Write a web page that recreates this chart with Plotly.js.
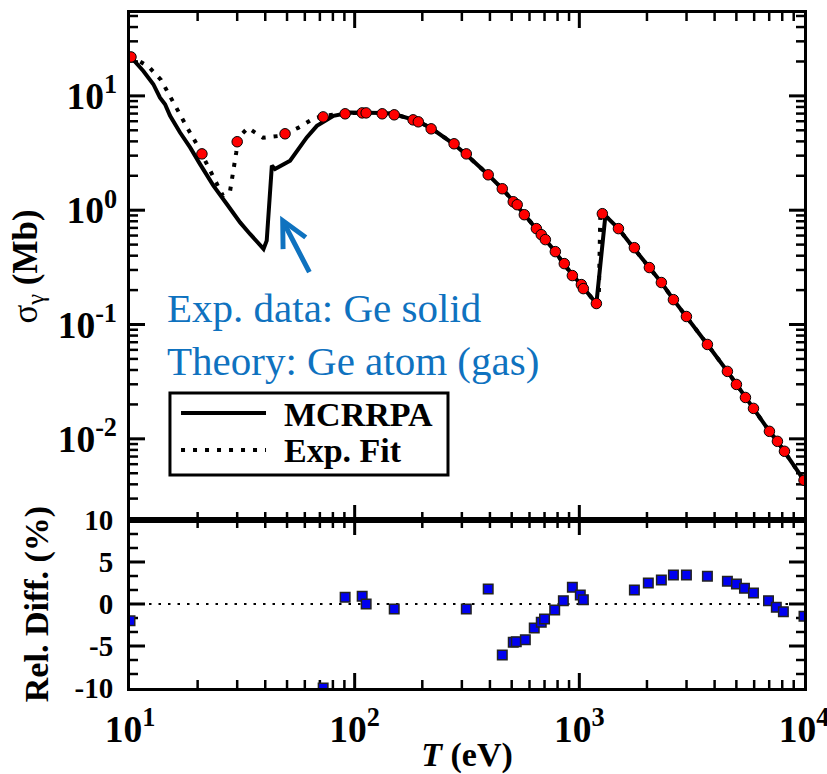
<!DOCTYPE html>
<html>
<head>
<meta charset="utf-8">
<script src="https://cdn.plot.ly/plotly-3.0.1.min.js"></script>
<style>html,body{margin:0;padding:0;background:#fff;}#chart{width:827px;height:774px;}</style>
</head>
<body>
<div id="chart"></div>
<script>
// ---- data ----
const mcrrpaT = [10, 11.46, 12.70, 13.60, 14.32, 15.08, 16.70, 18.51, 20.50, 23.5, 26.96, 30.9, 34.2, 37.9, 39.3, 40.6, 42.8, 44.2, 51.6, 61.2, 67.9, 80.5, 95.5, 134, 148, 190, 221, 275, 311, 393, 454, 519, 575, 637, 706, 782, 849, 940, 1042, 1191, 1306, 1493, 1740, 2050, 2318, 2623, 2997, 3716, 4561, 5003, 5487, 5958, 7016, 7615, 8185, 10000];
const mcrrpaS = [22.3, 16.5, 12.65, 9.66, 8.46, 6.69, 4.78, 3.54, 2.53, 1.64, 1.133, 0.782, 0.62, 0.49, 0.458, 0.542, 2.45, 2.29, 2.71, 4.33, 5.47, 6.69, 7.15, 7.10, 6.97, 6.05, 5.15, 3.81, 3.11, 2.04, 1.54, 1.14, 0.895, 0.69, 0.541, 0.434, 0.341, 0.268, 0.206, 0.1526, 0.895, 0.69, 0.47, 0.315, 0.233, 0.165, 0.1175, 0.0669, 0.0389, 0.0299, 0.023, 0.01846, 0.01163, 0.00951, 0.00778, 0.00434];

const fitT = [10, 12.15, 13.74, 15.07, 16.5, 18.1, 19.9, 21.8, 23.9, 25.9, 27.9, 28.8, 29.7, 30.3, 33.5, 39.1, 46.5, 56.0, 65.3, 72.4, 95.5, 134, 148, 190, 221, 275, 311, 393, 454, 519, 575, 637, 706, 782, 849, 940, 1042, 1191, 1220, 1240, 1306, 1493, 1740, 2050, 2318, 2623, 2997, 3716, 4561, 5003, 5487, 5958, 7016, 7615, 8185, 10000];
const fitS = [22.5, 17.9, 13.8, 9.8, 6.97, 5.15, 3.73, 2.60, 1.88, 1.34, 1.48, 2.13, 3.18, 4.30, 5.25, 4.30, 4.47, 5.25, 6.3, 6.68, 7.10, 7.10, 6.97, 6.05, 5.15, 3.81, 3.11, 2.04, 1.54, 1.14, 0.895, 0.69, 0.541, 0.434, 0.341, 0.268, 0.206, 0.1526, 0.16, 0.93, 0.895, 0.69, 0.47, 0.315, 0.233, 0.165, 0.1175, 0.0669, 0.0389, 0.0299, 0.023, 0.01846, 0.01163, 0.00951, 0.00778, 0.00434];

const expT = [10.1, 20.9, 30.0, 49.0, 72.4, 90.7, 108, 112.5, 132.6, 150, 182, 192, 219, 277, 314, 393, 454, 508, 529, 569, 644, 677, 706, 782, 857, 931, 1021, 1042, 1191, 1266, 1493, 1758, 2050, 2318, 2623, 2997, 3716, 4561, 5003, 5487, 5958, 7016, 7615, 8185, 10000];
const expS = [21.9, 3.11, 3.97, 4.66, 6.55, 6.97, 7.10, 7.10, 6.97, 6.83, 6.17, 5.93, 5.15, 3.81, 3.11, 2.04, 1.54, 1.186, 1.117, 0.913, 0.69, 0.611, 0.553, 0.434, 0.341, 0.268, 0.2235, 0.206, 0.1526, 0.932, 0.69, 0.47, 0.315, 0.233, 0.165, 0.1175, 0.0669, 0.0389, 0.0299, 0.023, 0.01846, 0.01163, 0.00951, 0.00778, 0.00434];

const diffT = [10, 72.4, 90.7, 108, 112.5, 150, 314, 393, 454, 508, 524, 575, 630, 677, 700, 777, 849, 931, 1010, 1042, 1758, 2028, 2318, 2623, 2997, 3716, 4561, 5003, 5433, 5958, 6950, 7530, 8095, 10000];
const diffV = [-2.0, -10, 0.8, 0.92, 0.0, -0.6, -0.6, 1.79, -6.07, -4.56, -4.48, -4.25, -2.86, -2.18, -1.79, -0.71, 0.4, 1.99, 1.07, 0.52, 1.67, 2.5, 2.86, 3.45, 3.45, 3.3, 2.7, 2.38, 1.87, 1.31, 0.4, -0.4, -0.91, -1.47];

const zeroT = [10, 10000];
const zeroV = [0, 0];

// tick label aliases (plotly prints 10 and 1 plainly; the figure writes them as powers)
const xLabelAlias = {'10': '10<sup>1</sup>'};
const yLabelAlias = {'10': '10<sup>1</sup>', '1': '10<sup>0</sup>',
  '10<sup>\u22121</sup>': '10<sup>-1</sup>', '10<sup>\u22122</sup>': '10<sup>-2</sup>'};
const y2LabelAlias = {'\u22125': '-5', '\u221210': '-10'};

const legendNames = ["MCRRPA", "Exp. Fit"];
const noteLines = ["Exp. data: Ge solid", "Theory: Ge atom (gas)"];

// tick mark values
const xMajor = [100, 1000];
const xMinor = [20, 30, 40, 50, 60, 70, 80, 90, 200, 300, 400, 500, 600, 700, 800, 900, 2000, 3000, 4000, 5000, 6000, 7000, 8000, 9000];
const yMajor = [0.01, 0.1, 1, 10];
const yMinor = [0.002, 0.003, 0.004, 0.005, 0.006, 0.007, 0.008, 0.009, 0.02, 0.03, 0.04, 0.05, 0.06, 0.07, 0.08, 0.09, 0.2, 0.3, 0.4, 0.5, 0.6, 0.7, 0.8, 0.9, 2, 3, 4, 5, 6, 7, 8, 9, 20, 30, 40, 50];
const y2Major = [-5, 0, 5];
const y2Minor = [-8.333, -6.667, -3.333, -1.667, 1.667, 3.333, 6.667, 8.333];

// ---- styles ----
const SERIF = "Liberation Serif, Times New Roman, serif";
const BLUE_TXT = "#0f72bf";
const split = 0.2489;
const XR = [1, 4];
const YR = [-2.71, 1.725];
const Y2R = [-10, 10];
const W = 674, HB = 168, HT = 507;   // plot-area sizes, px
const MAJ = 15, MIN = 8;             // tick lengths, px

// tick marks as short line segments placed through the axes' scales
function xTickSeg(vals, len, yLo, yHi, isLog, h) {
  const xs = [], ys = [];
  const span = (isLog ? (YR[1] - YR[0]) : (Y2R[1] - Y2R[0])) * len / h;
  vals.forEach(v => {
    if (isLog) {
      xs.push(v, v, null, v, v, null);
      ys.push(Math.pow(10, yLo), Math.pow(10, yLo + span), null, Math.pow(10, yHi), Math.pow(10, yHi - span), null);
    } else {
      xs.push(v, v, null, v, v, null);
      ys.push(yLo, yLo + span, null, yHi, yHi - span, null);
    }
  });
  return {xs, ys};
}
function yTickSeg(vals, len) {
  const xs = [], ys = [];
  const span = (XR[1] - XR[0]) * len / W;
  vals.forEach(v => {
    xs.push(Math.pow(10, XR[0]), Math.pow(10, XR[0] + span), null, Math.pow(10, XR[1]), Math.pow(10, XR[1] - span), null);
    ys.push(v, v, null, v, v, null);
  });
  return {xs, ys};
}
function tickTrace(seg, xa, ya, width) {
  return {x: seg.xs, y: seg.ys, xaxis: xa, yaxis: ya, mode: 'lines', connectgaps: false,
          line: {color: '#000', width: width}, hoverinfo: 'skip', showlegend: false};
}

const tickTraces = [
  tickTrace(xTickSeg(xMajor, MAJ, YR[0], YR[1], true, HT), 'x', 'y', 3),
  tickTrace(xTickSeg(xMinor, MIN, YR[0], YR[1], true, HT), 'x', 'y', 2.5),
  tickTrace(yTickSeg(yMajor, MAJ), 'x', 'y', 3),
  tickTrace(yTickSeg(yMinor, MIN), 'x', 'y', 2.5),
  tickTrace(xTickSeg(xMajor, MAJ, Y2R[0], Y2R[1], false, HB), 'x2', 'y2', 3),
  tickTrace(xTickSeg(xMinor, MIN, Y2R[0], Y2R[1], false, HB), 'x2', 'y2', 2.5),
  tickTrace(yTickSeg(y2Major, MAJ), 'x2', 'y2', 3),
  tickTrace(yTickSeg(y2Minor, MIN), 'x2', 'y2', 2.5)
];

// top panel: x / y ; bottom panel: x2 / y2
const dataTraces = [
  {x: fitT, y: fitS, xaxis: 'x', yaxis: 'y', mode: 'lines', name: legendNames[1],
   line: {color: '#000', width: 4, dash: '4px,8px'}, showlegend: false},
  {x: mcrrpaT, y: mcrrpaS, xaxis: 'x', yaxis: 'y', mode: 'lines', name: legendNames[0],
   line: {color: '#000', width: 4}, showlegend: false},
  {x: expT, y: expS, xaxis: 'x', yaxis: 'y', mode: 'markers', name: 'Exp. data',
   marker: {color: '#ff0000', size: 10.5, line: {color: '#000', width: 1}}, showlegend: false},
  {x: zeroT, y: zeroV, xaxis: 'x2', yaxis: 'y2', mode: 'lines',
   line: {color: '#000', width: 2, dash: '2.5px,7px'}, showlegend: false},
  {x: diffT, y: diffV, xaxis: 'x2', yaxis: 'y2', mode: 'markers', name: 'Rel. Diff.',
   marker: {color: '#0000f0', size: 9.5, symbol: 'square', line: {color: '#222', width: 1.5}}, showlegend: false}
];

const axisCommon = {
  showline: true, linewidth: 3, linecolor: '#000', mirror: true,
  ticks: '', showgrid: false, zeroline: false
};

const layout = {
  width: 827, height: 774,
  margin: {l: 130, r: 23, t: 13, b: 86},
  paper_bgcolor: '#fff', plot_bgcolor: '#fff',
  showlegend: false,
  xaxis: Object.assign({}, axisCommon, {
    type: 'log', range: XR, anchor: 'y', domain: [0, 1],
    dtick: 1, showticklabels: false
  }),
  xaxis2: Object.assign({}, axisCommon, {
    type: 'log', range: XR, anchor: 'y2', domain: [0, 1],
    dtick: 1, exponentformat: 'power', labelalias: xLabelAlias,
    ticklabeloverflow: 'allow',
    tickfont: {family: SERIF, size: 30, color: '#000', weight: 'bold'},
    ticklabelstandoff: 7,
    title: {text: '<i>T</i> (eV)', font: {family: SERIF, size: 34, color: '#000', weight: 'bold'}, standoff: 0}
  }),
  yaxis: Object.assign({}, axisCommon, {
    type: 'log', range: YR, domain: [split, 1], anchor: 'x',
    dtick: 1, exponentformat: 'power', labelalias: yLabelAlias,
    tickfont: {family: SERIF, size: 30, color: '#000', weight: 'bold'},
    ticklabelstandoff: 4,
    title: {text: 'σ<sub>γ</sub> <b>(Mb)</b>', font: {family: SERIF, size: 35, color: '#000'}, standoff: 10}
  }),
  yaxis2: Object.assign({}, axisCommon, {
    range: Y2R, domain: [0, split], anchor: 'x2',
    dtick: 5, tick0: 0, labelalias: y2LabelAlias,
    tickfont: {family: SERIF, size: 29, color: '#000', weight: 'bold'},
    ticklabelstandoff: 8,
    title: {text: 'Rel. Diff. (%)', font: {family: SERIF, size: 34, color: '#000', weight: 'bold'}, standoff: 16}
  }),
  shapes: [
    {type: 'rect', xref: 'paper', yref: 'paper', x0: 0.0593, x1: 0.4718, y0: 0.3156, y1: 0.437,
     line: {color: '#000', width: 3}, fillcolor: '#fff', layer: 'above'},
    {type: 'line', xref: 'paper', yref: 'paper', x0: 0.0757, x1: 0.2018, y0: 0.4074, y1: 0.4074,
     line: {color: '#000', width: 4}},
    {type: 'line', xref: 'paper', yref: 'paper', x0: 0.0757, x1: 0.2018, y0: 0.3526, y1: 0.3526,
     line: {color: '#000', width: 4, dash: '4px,8px'}}
  ],
  annotations: [
    {xref: 'paper', yref: 'paper', x: 0.225, y: 0.405, xanchor: 'left', yanchor: 'middle',
     text: '<b>' + legendNames[0] + '</b>', showarrow: false,
     font: {family: SERIF, size: 34, color: '#000'}},
    {xref: 'paper', yref: 'paper', x: 0.225, y: 0.352, xanchor: 'left', yanchor: 'middle',
     text: '<b>' + legendNames[1] + '</b>', showarrow: false,
     font: {family: SERIF, size: 34, color: '#000'}},
    {xref: 'paper', yref: 'paper', x: 0.052, y: 0.523, xanchor: 'left', yanchor: 'middle',
     text: noteLines.join('<br>'), showarrow: false, align: 'left',
     font: {family: SERIF, size: 41, color: BLUE_TXT}},
    {xref: 'x', yref: 'y', x: Math.log10(46.6), y: Math.log10(0.895), text: '',
     showarrow: true, arrowhead: 5, arrowsize: 1, arrowwidth: 5, arrowcolor: BLUE_TXT,
     ax: 30, ay: 58}
  ]
};

Plotly.newPlot('chart', tickTraces.concat(dataTraces), layout, {staticPlot: true, displayModeBar: false});
</script>
</body>
</html>
